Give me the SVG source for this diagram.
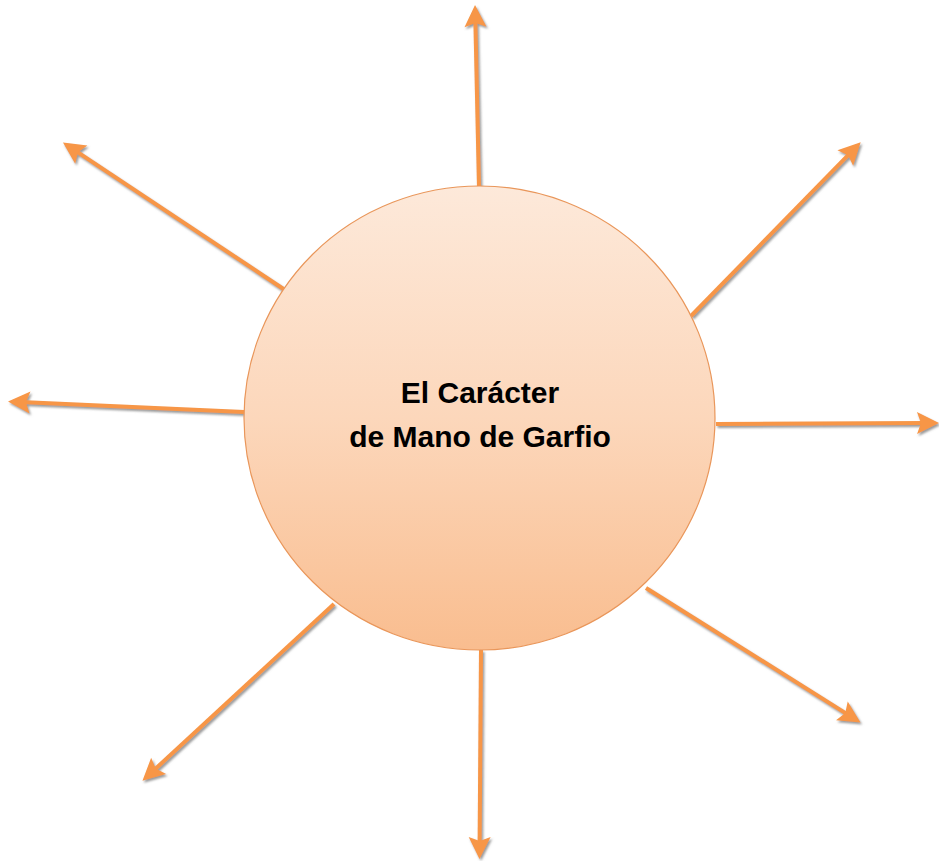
<svg xmlns="http://www.w3.org/2000/svg" width="939" height="861" viewBox="0 0 939 861">
<style>
.conn{stroke:#f79646;stroke-width:4;fill:none;marker-end:url(#ah)}
.lbl{font-family:"Liberation Sans",Arial,sans-serif;font-weight:bold;font-size:30px;fill:#000;text-anchor:middle}
</style>
<defs>
<linearGradient id="g" x1="0" y1="0" x2="0" y2="1">
<stop offset="0" stop-color="#fde9da"/>
<stop offset="0.5" stop-color="#fcd7bb"/>
<stop offset="1" stop-color="#f9bd8f"/>
</linearGradient>
<marker id="ah" markerUnits="userSpaceOnUse" markerWidth="30" markerHeight="30" viewBox="-12 -15 30 30" refX="0" refY="0" orient="auto">
<path d="M13,0 L-9,-11 L-5,0 L-9,11 Z" fill="#f79646"/>
</marker>
<filter id="sh" x="-10%" y="-10%" width="120%" height="120%">
<feDropShadow dx="1.5" dy="2" stdDeviation="1" flood-color="#808080" flood-opacity="0.8"/>
</filter>
</defs>
<rect width="939" height="861" fill="#fff"/>
<g id="connectors" filter="url(#sh)">
<line class="conn" x1="479" y1="188" x2="475.3" y2="18"/>
<line class="conn" x1="288" y1="292" x2="73.8" y2="149.6"/>
<line class="conn" x1="244" y1="412" x2="21" y2="402"/>
<line class="conn" x1="691" y1="316" x2="851.6" y2="151.6"/>
<line class="conn" x1="716" y1="424" x2="926" y2="423"/>
<line class="conn" x1="646" y1="588" x2="849.5" y2="715.6"/>
<line class="conn" x1="334" y1="604" x2="152" y2="772"/>
<line class="conn" x1="481" y1="650" x2="479.6" y2="846"/>
</g>
<g id="center">
<ellipse cx="479.5" cy="418" rx="235.5" ry="232" fill="url(#g)" stroke="#e9965a" stroke-width="1.2"/>
<text class="lbl" x="480" y="403">El Carácter</text>
<text class="lbl" x="480" y="447">de Mano de Garfio</text>
</g>
</svg>
